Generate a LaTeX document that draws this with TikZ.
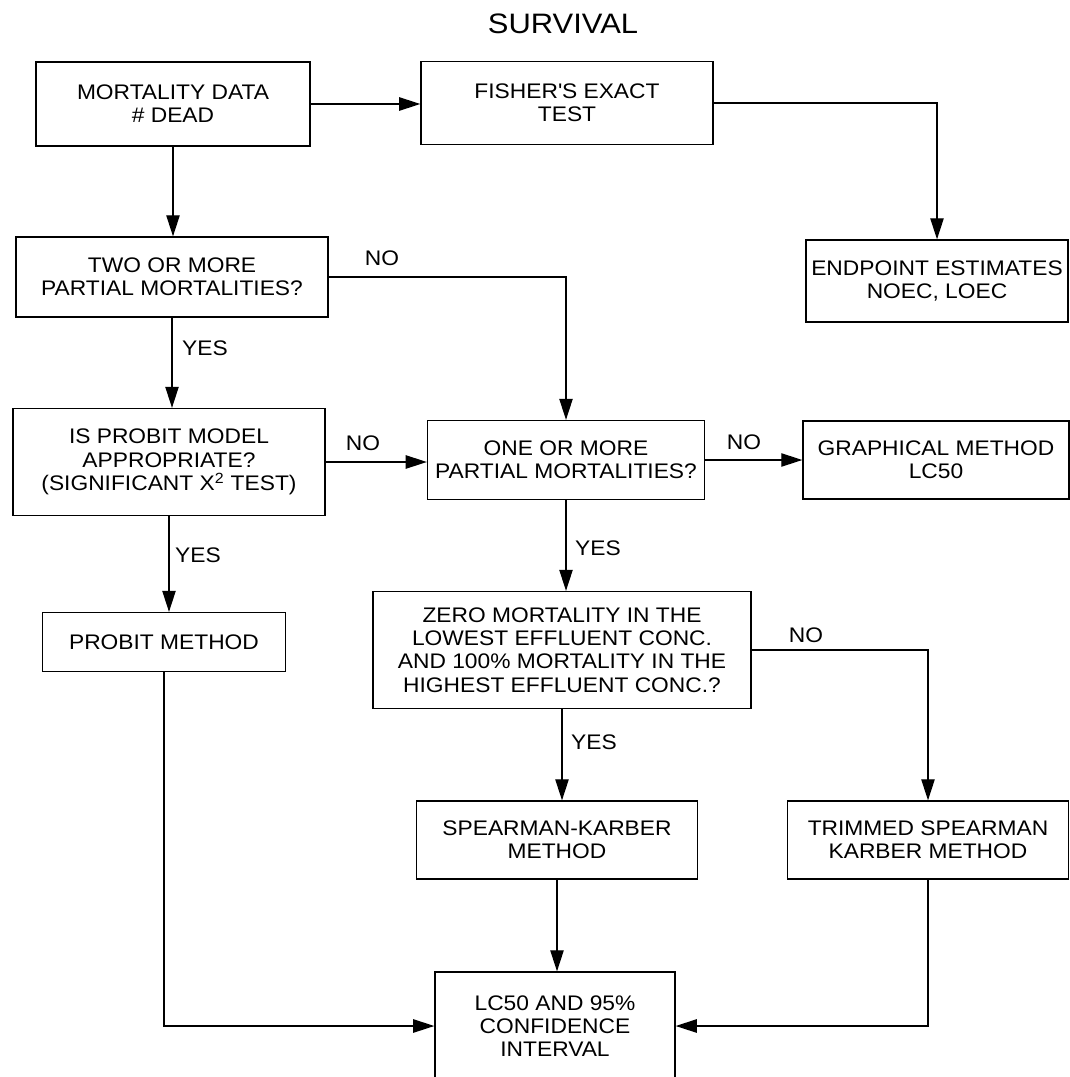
\documentclass[tikz,border=0pt]{standalone}
\usepackage{fontspec}
\setmainfont{Liberation Sans}[FakeStretch=1.08]
\newfontfamily\titlefamily{Liberation Sans}[FakeStretch=1.1]
\usepackage{tikz}
\usetikzlibrary{arrows.meta}
\usetikzlibrary{calc}
\tikzstyle{block} = [rectangle, draw=black, line width=0.9pt, align=center, inner sep=0pt, font=\fontsize{15}{16.5}\selectfont]
\tikzstyle{lbl} = [inner sep=0pt, font=\fontsize{15}{16.5}\selectfont]
\tikzstyle{arrow} = [line width=0.9pt, -{Triangle[length=15pt,width=9.5pt]}]

\begin{document}
\begin{tikzpicture}[x=0.025cm, y=-0.025cm]
    \useasboundingbox (0,0) rectangle (1070,1077);
    \node[font=\titlefamily\fontsize{20}{22}\selectfont] (title) at (563,24) {SURVIVAL};

    %% top row
    \node[block, minimum width=6.85cm, minimum height=2.1cm] (mort) at (173,104) {MORTALITY DATA\\\# DEAD};
    \node[block, minimum width=7.3cm, minimum height=2.075cm] (fisher) at (567,103) {FISHER\textquotesingle S EXACT\\TEST};
    \node[block, minimum width=6.55cm, minimum height=2.05cm] (endpt) at (937,281) {ENDPOINT ESTIMATES\\NOEC, LOEC};

    %% decisions
    \node[block, minimum width=7.8cm, minimum height=2.0cm] (two) at (172,277) {TWO OR MORE\\PARTIAL MORTALITIES?};
    \node[block, minimum width=7.8cm, minimum height=2.675cm] (probq) at (169,462) {IS PROBIT MODEL\\APPROPRIATE?\\(SIGNIFICANT X\textsuperscript{2} TEST)};
    \node[block, minimum width=6.925cm, minimum height=1.975cm] (one) at (566,460) {ONE OR MORE\\PARTIAL MORTALITIES?};
    \node[block, minimum width=6.65cm, minimum height=1.95cm] (graph) at (936,460) {GRAPHICAL METHOD\\LC50};
    \node[block, minimum width=6.075cm, minimum height=1.475cm] (pmeth) at (164,642) {PROBIT METHOD};
    \node[block, minimum width=9.45cm, minimum height=2.925cm] (zero) at (562,650) {ZERO MORTALITY IN THE\\LOWEST EFFLUENT CONC.\\AND 100\% MORTALITY IN THE\\HIGHEST EFFLUENT CONC.?};

    %% methods
    \node[block, minimum width=7.025cm, minimum height=1.95cm] (spear) at (557,840) {SPEARMAN-KARBER\\METHOD};
    \node[block, minimum width=7.025cm, minimum height=1.95cm] (trim) at (928,840) {TRIMMED SPEARMAN\\KARBER METHOD};
    \node[block, minimum width=6.0cm, minimum height=2.7cm] (lc) at (555,1026) {LC50 AND 95\%\\CONFIDENCE\\INTERVAL};

    %% connectors
    \draw [arrow] (mort.east) -- (mort.east -| fisher.west);
    \draw [arrow] (fisher.east) -| (endpt.north);
    \draw [arrow] (mort.south) -- (mort.south |- two.north);
    \draw [arrow] (two.east) -| (one.north);
    \draw [arrow] (two.south) -- (two.south |- probq.north);
    \draw [arrow] (probq.east) -- (probq.east -| one.west);
    \draw [arrow] (one.east) -- (one.east -| graph.west);
    \draw [arrow] (probq.south) -- (probq.south |- pmeth.north);
    \draw [arrow] (one.south) -- (one.south |- zero.north);
    \draw [arrow] (zero.east) -| (trim.north);
    \draw [arrow] (zero.south) -- (zero.south |- spear.north);
    \draw [arrow] (spear.south) -- (spear.south |- lc.north);
    \draw [arrow] (pmeth.south) |- (lc.west);
    \draw [arrow] (trim.south) |- (lc.east);

    %% yes / no labels
    \node[lbl] (notwo) at (382,258) {NO};
    \node[lbl] (yestwo) at (205,348) {YES};
    \node[lbl] (noprob) at (363,443) {NO};
    \node[lbl] (noone) at (744,442) {NO};
    \node[lbl] (yesprob) at (198,555) {YES};
    \node[lbl] (yesone) at (598,548) {YES};
    \node[lbl] (nozero) at (806,635) {NO};
    \node[lbl] (yeszero) at (594,742) {YES};
\end{tikzpicture}
\end{document}
